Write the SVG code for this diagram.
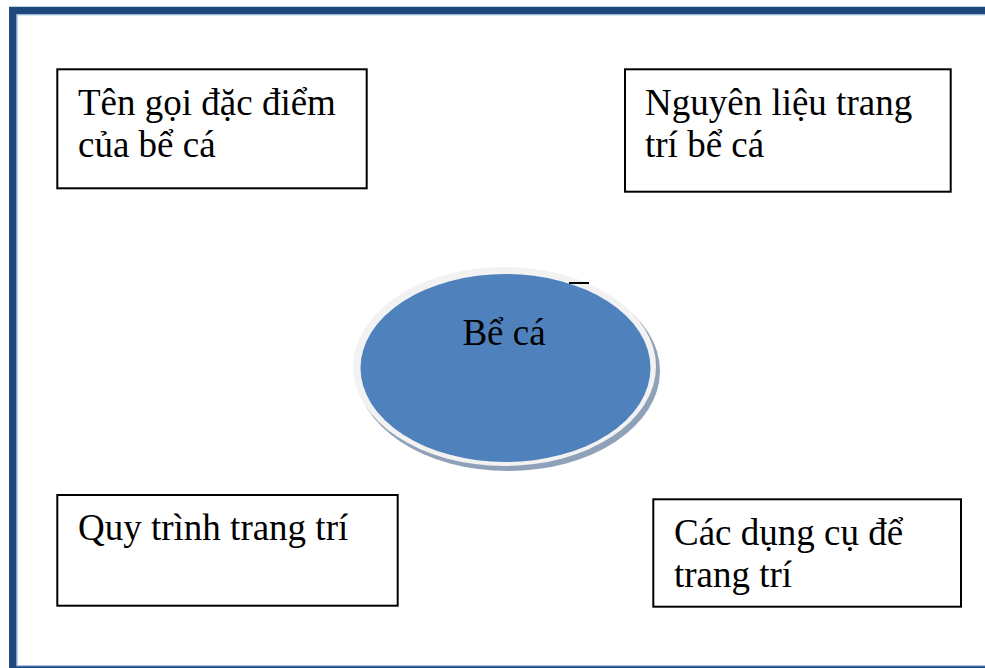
<svg xmlns="http://www.w3.org/2000/svg" width="985" height="668" viewBox="0 0 985 668">
<style>
.box{fill:#fff;stroke:#000;stroke-width:2}
.t{font-family:"Liberation Serif","Times New Roman",serif;font-size:37px;fill:#000}
</style>
<rect width="985" height="668" fill="#fff"/>
<g id="frame">
<rect x="12.8" y="10.5" width="1000" height="659.3" fill="none" stroke="#1f497d" stroke-width="7.5"/>
<rect x="17" y="14.8" width="1000" height="651" fill="none" stroke="#8eaadb" stroke-width="1"/>
</g>
<g id="connectors"></g>
<g id="center">
<ellipse cx="508" cy="371" rx="152" ry="100" fill="#8fa1b8"/>
<ellipse cx="504.5" cy="366.5" rx="151.5" ry="99.5" fill="#f2f2f2"/>
<ellipse cx="505.5" cy="368" rx="145" ry="94" fill="#4f81bd"/>
<line x1="569" y1="283" x2="589" y2="283" stroke="#000" stroke-width="2"/>
<text class="t" x="504" y="345" text-anchor="middle">Bể cá</text>
</g>
<g id="n1">
<rect class="box" x="57.3" y="69.3" width="309.4" height="119"/>
<text class="t" x="78" y="115">Tên gọi đặc điểm</text>
<text class="t" x="78" y="157">của bể cá</text>
</g>
<g id="n2">
<rect class="box" x="625" y="69.3" width="325.7" height="122.4"/>
<text class="t" x="645" y="115">Nguyên liệu trang</text>
<text class="t" x="645" y="157">trí bể cá</text>
</g>
<g id="n3">
<rect class="box" x="57.3" y="495" width="340.4" height="110.7"/>
<text class="t" x="78" y="540">Quy trình trang trí</text>
</g>
<g id="n4">
<rect class="box" x="653.3" y="499.3" width="307.7" height="107.4"/>
<text class="t" x="674" y="545">Các dụng cụ để</text>
<text class="t" x="674" y="587">trang trí</text>
</g>
</svg>
